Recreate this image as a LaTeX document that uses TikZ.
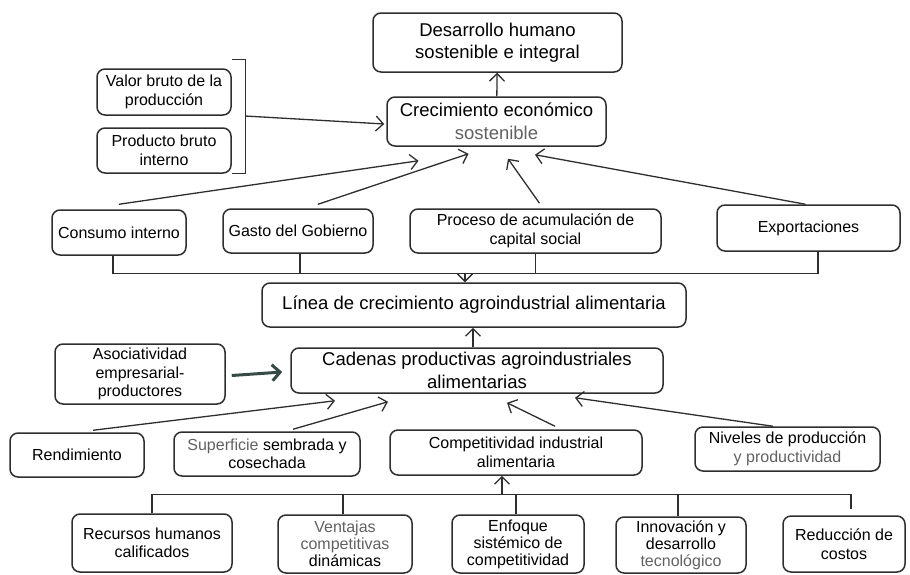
\documentclass[tikz,border=0pt]{standalone}
\usepackage{fontspec}
\setmainfont{Liberation Sans}
\usetikzlibrary{arrows.meta}
\colorlet{gris_texte}{black!62}
\colorlet{gris_trait}{black!82}
\definecolor{vert_fonce}{RGB}{55,75,70}

\begin{document}
\begin{tikzpicture}[
  x=1pt, y=-1pt,
  %  Définition des styles pour les cadres et les flèches
  boite_style/.style={rectangle, rounded corners=8pt, draw=gris_trait, line width=1.5pt, inner sep=0pt, align=center},
  grand_style/.style={boite_style, font=\fontsize{18.5}{22.5}\selectfont},
  petit_style/.style={boite_style, font=\fontsize{16}{18.5}\selectfont},
  serre_style/.style={petit_style, font=\fontsize{16}{17}\selectfont},
  trait_style/.style={draw=gris_trait, line width=1.3pt},
  fleche_style/.style={trait_style, -{Straight Barb[length=7.5pt,width=15pt]}},
  fleche_forte_style/.style={draw=vert_fonce, line width=3pt, -{Straight Barb[length=8pt,width=16pt]}}
]
\useasboundingbox (0,0) rectangle (910,574);

%  Haut du schéma
\node[grand_style, minimum width=249pt, minimum height=59pt] (desarrollo) at (497.5,42.5) {Desarrollo humano\\sostenible e integral};
\node[grand_style, minimum width=219pt, minimum height=49pt] (crecimiento) at (496.5,121.5) {Crecimiento económico\\\textcolor{gris_texte}{sostenible}};
\node[petit_style, minimum width=134pt, minimum height=46pt] (valor) at (164,92) {Valor bruto de la\\producción};
\node[petit_style, minimum width=134pt, minimum height=45pt] (producto) at (164,150.5) {Producto bruto\\interno};

\draw[fleche_style] (crecimiento) -- (desarrollo);
\draw[trait_style] ([yshift=9pt]valor.north east) -- ++(14pt,0) |- (producto.south east);
\coordinate (accolade) at (245,116);
\draw[fleche_style] (accolade) -- ([xshift=-2pt,yshift=-2.5pt]crecimiento.west);

%  Première rangée
\node[petit_style, minimum width=134pt, minimum height=45pt] (consumo) at (119,232.5) {Consumo interno};
\node[petit_style, minimum width=150pt, minimum height=44pt] (gasto) at (298,231) {Gasto del Gobierno};
\node[petit_style, minimum width=251pt, minimum height=44pt] (proceso) at (535.5,231) {Proceso de acumulación de\\capital social};
\node[petit_style, minimum width=183pt, minimum height=46pt] (exportaciones) at (808.5,228) {Exportaciones};

\draw[fleche_style] ([yshift=5pt]consumo.north) -- ([xshift=-78pt,yshift=-14pt]crecimiento.south);
\draw[fleche_style] ([xshift=20pt,yshift=4pt]gasto.north) -- ([xshift=-28pt,yshift=-7pt]crecimiento.south);
\draw[fleche_style] ([xshift=4pt,yshift=5pt]proceso.north) -- ([xshift=11.5pt,yshift=-12pt]crecimiento.south);
\draw[fleche_style] ([xshift=-3pt]exportaciones.north) -- ([xshift=38.5pt,yshift=-8pt]crecimiento.south);

\coordinate (bus_haut) at ([xshift=-6pt,yshift=-18pt]consumo.south);
\draw[trait_style] ([xshift=-6pt]consumo.south) -- (bus_haut) -| ([xshift=9.5pt]exportaciones.south);
\draw[trait_style] ([xshift=2pt]gasto.south) -- ([xshift=2pt]gasto.south |- bus_haut);
\draw[trait_style] (proceso.south) -- (proceso.south |- bus_haut);

%  Milieu du schéma
\node[grand_style, minimum width=424pt, minimum height=44pt] (linea) at (474,305) {Línea de crecimiento agroindustrial alimentaria};
\node[grand_style, minimum width=372pt, minimum height=45pt] (cadenas) at (477,370.5) {Cadenas productivas agroindustriales\\alimentarias};
\node[petit_style, minimum width=170pt, minimum height=60pt] (asociatividad) at (140,374) {Asociatividad\\empresarial-\\productores};

\draw[fleche_style] ([xshift=-9pt]linea.north |- bus_haut) -- ([xshift=-9pt]linea.north);
\draw[fleche_style] ([xshift=-4pt]cadenas.north) -- ([xshift=-1pt]linea.south);
\draw[fleche_forte_style] ([xshift=6pt,yshift=-1.5pt]asociatividad.east) -- ([xshift=-8pt,yshift=-1.5pt]cadenas.west);

%  Troisième rangée
\node[petit_style, minimum width=134pt, minimum height=44pt] (rendimiento) at (77,455) {Rendimiento};
\node[petit_style, minimum width=186pt, minimum height=44pt] (superficie) at (267,454) {\textcolor{gris_texte}{Superficie} sembrada y\\cosechada};
\node[petit_style, minimum width=252pt, minimum height=45pt] (competitividad) at (516,452.5) {Competitividad industrial\\alimentaria};
\node[petit_style, minimum width=185pt, minimum height=44pt] (niveles) at (787.5,449) {Niveles de producción\\\textcolor{gris_texte}{y productividad}};

\draw[fleche_style] ([xshift=16pt,yshift=2pt]rendimiento.north) -- ([xshift=-142pt,yshift=-7pt]cadenas.south);
\draw[fleche_style] ([xshift=26pt,yshift=2pt]superficie.north) -- ([xshift=-89pt,yshift=-8pt]cadenas.south);
\draw[fleche_style] ([xshift=39pt,yshift=3pt]competitividad.north) -- ([xshift=30pt,yshift=-9pt]cadenas.south);
\draw[fleche_style] ([xshift=-14.5pt]niveles.north) -- ([xshift=98pt,yshift=-4pt]cadenas.south);

%  Dernière rangée
\node[petit_style, minimum width=160pt, minimum height=58pt] (recursos) at (152,543) {Recursos humanos\\calificados};
\node[serre_style, minimum width=134pt, minimum height=58pt] (ventajas) at (345,544) {\textcolor{gris_texte}{Ventajas}\\\textcolor{gris_texte}{competitivas}\\dinámicas};
\node[serre_style, minimum width=132pt, minimum height=58pt] (enfoque) at (518,544) {Enfoque\\sistémico de\\competitividad};
\node[serre_style, minimum width=130pt, minimum height=56pt] (innovacion) at (681,545) {Innovación y\\desarrollo\\\textcolor{gris_texte}{tecnológico}};
\node[petit_style, minimum width=122pt, minimum height=56pt] (reduccion) at (844,544) {Reducción de\\costos};

\coordinate (bus_bas) at ([yshift=19pt]recursos.north);
\draw[trait_style] (recursos.north) -- (bus_bas) -| ([xshift=7pt,yshift=6pt]reduccion.north);
\draw[trait_style] ([xshift=-2pt]ventajas.north) -- ([xshift=-2pt]ventajas.north |- bus_bas);
\draw[trait_style] ([xshift=-2pt]enfoque.north) -- ([xshift=-2pt]enfoque.north |- bus_bas);
\draw[trait_style] ([xshift=-3pt]innovacion.north) -- ([xshift=-3pt]innovacion.north |- bus_bas);
\draw[fleche_style] ([xshift=-14pt]competitividad.south |- bus_bas) -- ([xshift=-14pt]competitividad.south);
\end{tikzpicture}
\end{document}
